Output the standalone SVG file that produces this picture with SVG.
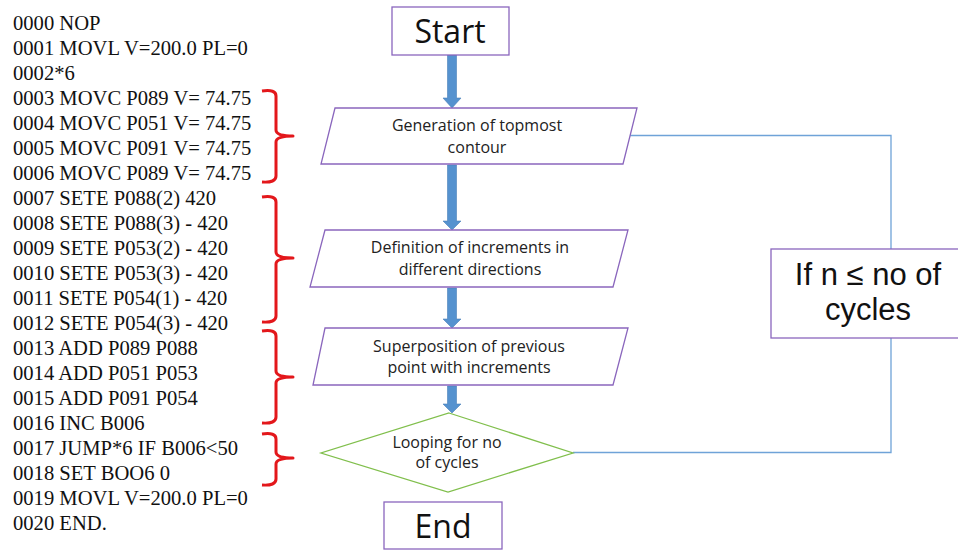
<svg xmlns="http://www.w3.org/2000/svg" width="958" height="553" viewBox="0 0 958 553">
<style>
.code{font-family:"Liberation Serif","Times New Roman",serif;font-size:20.6px;fill:#111}
.brace{fill:none;stroke:#e3171b;stroke-width:3;stroke-linejoin:round}
.node{fill:#fff;stroke:#8a66bd;stroke-width:1.3}
.dec{fill:#fff;stroke:#80bf4c;stroke-width:1.3}
.lbl{font-family:"Open Sans","Liberation Sans",sans-serif;font-size:16px;fill:#222;text-anchor:middle}
.big{font-family:"Open Sans","Liberation Sans",sans-serif;font-size:32px;fill:#111;text-anchor:middle}
.cond{font-family:"Liberation Sans",Arial,sans-serif;font-size:31px;fill:#111;text-anchor:middle}
.arrow{fill:#5592cf;stroke:#4a80b8;stroke-width:0.6}
.loop{fill:none;stroke:#6fa3d8;stroke-width:1.3}
</style>
<rect width="958" height="553" fill="#fff"/>
<g id="code">
<text class="code" x="13" y="30">0000 NOP</text>
<text class="code" x="13" y="55">0001 MOVL V=200.0 PL=0</text>
<text class="code" x="13" y="80">0002*6</text>
<text class="code" x="13" y="105">0003 MOVC P089 V= 74.75</text>
<text class="code" x="13" y="130">0004 MOVC P051 V= 74.75</text>
<text class="code" x="13" y="155">0005 MOVC P091 V= 74.75</text>
<text class="code" x="13" y="180">0006 MOVC P089 V= 74.75</text>
<text class="code" x="13" y="205">0007 SETE P088(2) 420</text>
<text class="code" x="13" y="230">0008 SETE P088(3) - 420</text>
<text class="code" x="13" y="255">0009 SETE P053(2) - 420</text>
<text class="code" x="13" y="280">0010 SETE P053(3) - 420</text>
<text class="code" x="13" y="305">0011 SETE P054(1) - 420</text>
<text class="code" x="13" y="330">0012 SETE P054(3) - 420</text>
<text class="code" x="13" y="355">0013 ADD P089 P088</text>
<text class="code" x="13" y="380">0014 ADD P051 P053</text>
<text class="code" x="13" y="405">0015 ADD P091 P054</text>
<text class="code" x="13" y="430">0016 INC B006</text>
<text class="code" x="13" y="455">0017 JUMP*6 IF B006&lt;50</text>
<text class="code" x="13" y="480">0018 SET BOO6 0</text>
<text class="code" x="13" y="505">0019 MOVL V=200.0 PL=0</text>
<text class="code" x="13" y="530">0020 END.</text>
</g>
<g id="braces">
<path class="brace" d="M262,91 Q276,89 276,96 L276,130 Q276,136 293,136 Q276,136 276,142 L276,176 Q276,183 262,182"/>
<path class="brace" d="M262,197 Q276,195 276,202 L276,252 Q276,258 293,258 Q276,258 276,264 L276,316 Q276,323 262,322"/>
<path class="brace" d="M262,331 Q276,329 276,336 L276,371 Q276,377 293,377 Q276,377 276,383 L276,417 Q276,424 262,423"/>
<path class="brace" d="M262,434 Q276,432 276,439 L276,452 Q276,458 293,458 Q276,458 276,464 L276,479 Q276,486 262,485"/>
</g>
<g id="connectors">
<polygon class="arrow" points="447.5,55 456.5,55 456.5,98 461,98 452,108 443,98 447.5,98"/>
<polygon class="arrow" points="447.5,165 456.5,165 456.5,221 461,221 452,230 443,221 447.5,221"/>
<polygon class="arrow" points="447.5,288 456.5,288 456.5,319 461,319 452,328 443,319 447.5,319"/>
<polygon class="arrow" points="447.5,386 456.5,386 456.5,404 461,404 452,413 443,404 447.5,404"/>
<polyline class="loop" points="630,135.5 891,135.5 891,452.5 573,452.5"/>
</g>
<g id="start">
<rect class="node" x="392" y="7" width="117" height="48"/>
<text class="big" x="450" y="43">Start</text>
</g>
<g id="generation">
<polygon class="node" points="335,108 637,108 623,164 321,164"/>
<text class="lbl" x="477" y="131">Generation of topmost</text>
<text class="lbl" x="477" y="153">contour</text>
</g>
<g id="definition">
<polygon class="node" points="325,230 628,230 613,287 310,287"/>
<text class="lbl" x="470" y="253">Definition of increments in</text>
<text class="lbl" x="470" y="275">different directions</text>
</g>
<g id="superposition">
<polygon class="node" points="325,328 628,328 613,385 313,385"/>
<text class="lbl" x="469" y="352">Superposition of previous</text>
<text class="lbl" x="469" y="373">point with increments</text>
</g>
<g id="looping">
<polygon class="dec" points="449,413 573,453 448,492 321,453"/>
<text class="lbl" x="447" y="448">Looping for no</text>
<text class="lbl" x="447" y="468">of cycles</text>
</g>
<g id="end">
<rect class="node" x="384" y="502" width="118" height="47"/>
<text class="big" x="443" y="538">End</text>
</g>
<g id="condition">
<rect class="node" x="771" y="249" width="190" height="89"/>
<text class="cond" x="868" y="285">If n ≤ no of</text>
<text class="cond" x="868" y="320">cycles</text>
</g>
</svg>
